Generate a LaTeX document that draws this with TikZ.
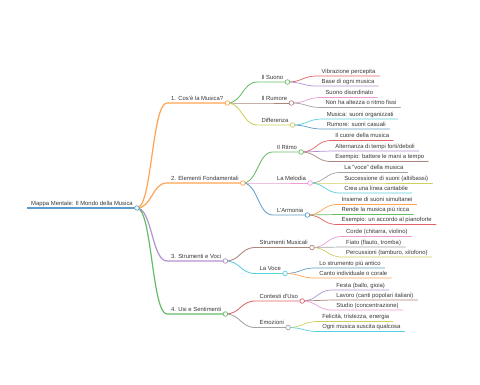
\documentclass[tikz,border=0pt]{standalone}
\usepackage{fontspec}
\setmainfont{Liberation Sans}
\usetikzlibrary{calc}

\definecolor{mmblue}{HTML}{1F77B4}
\definecolor{mmorange}{HTML}{FF7F0E}
\definecolor{mmgreen}{HTML}{2CA02C}
\definecolor{mmred}{HTML}{D62728}
\definecolor{mmpurple}{HTML}{9467BD}
\definecolor{mmbrown}{HTML}{8C564B}
\definecolor{mmpink}{HTML}{E377C2}
\definecolor{mmgrey}{HTML}{7F7F7F}
\definecolor{mmolive}{HTML}{BCBD22}
\definecolor{mmcyan}{HTML}{17BECF}

\tikzset{
    mmtopic/.style={font=\fontsize{5.9pt}{7pt}\selectfont, text=black!78, inner xsep=4pt, inner ysep=0pt, text height=4.4pt, text depth=2.4pt},
    mmdot/.style={circle, fill=white, line width=0.7pt, minimum size=4.6pt, inner sep=0pt},
}

% child topic: name, parent, colour, y of its line, line width, text
\newcommand{\mmkid}[6]{%
    \node[mmtopic, anchor=south west] (#1) at ($(#2.south east |- 0,#4)+(30,0)$) {#6};
    \path (#2.south east) -- coordinate[pos=0.5] (#1-mid) (#1.south west);
    \draw[#3!72, line width=#5, line cap=round] (#2.south east) .. controls (#1-mid |- #2.south east) and (#1-mid |- #1.south west) .. (#1.south west) -- (#1.south east);
}

\begin{document}
\begin{tikzpicture}[x=1pt, y=-1pt]
    \useasboundingbox[fill=white] (0,0) rectangle (480,384);

    \node[mmtopic, anchor=south west] (root) at (27,208) {Mappa Mentale: Il Mondo della Musica};
    \draw[mmblue!72, line width=2pt] (root.south west) -- (root.south east);

    % 1
    \mmkid{cosa}{root}{mmorange}{103}{1.2pt}{1. Cos'è la Musica?}
    \mmkid{suono}{cosa}{mmgreen}{82}{0.85pt}{Il Suono}
    \mmkid{vibrazione}{suono}{mmred}{76}{0.7pt}{Vibrazione percepita}
    \mmkid{base}{suono}{mmpurple}{86}{0.7pt}{Base di ogni musica}
    \mmkid{rumore}{cosa}{mmbrown}{103}{0.85pt}{Il Rumore}
    \mmkid{disordinato}{rumore}{mmpink}{97.5}{0.7pt}{Suono disordinato}
    \mmkid{nonha}{rumore}{mmgrey}{107.5}{0.7pt}{Non ha altezza o ritmo fissi}
    \mmkid{differenza}{cosa}{mmolive}{125}{0.85pt}{Differenza}
    \mmkid{musorg}{differenza}{mmcyan}{119}{0.7pt}{Musica: suoni organizzati}
    \mmkid{rumcas}{differenza}{mmblue}{129}{0.7pt}{Rumore: suoni casuali}

    % 2
    \mmkid{elementi}{root}{mmorange}{183}{1.2pt}{2. Elementi Fondamentali}
    \mmkid{ritmo}{elementi}{mmgreen}{152}{0.85pt}{Il Ritmo}
    \mmkid{cuore}{ritmo}{mmred}{140.5}{0.7pt}{Il cuore della musica}
    \mmkid{alternanza}{ritmo}{mmpurple}{151}{0.7pt}{Alternanza di tempi forti/deboli}
    \mmkid{battere}{ritmo}{mmbrown}{161.5}{0.7pt}{Esempio: battere le mani a tempo}
    \mmkid{melodia}{elementi}{mmpink}{183}{0.85pt}{La Melodia}
    \mmkid{vocemus}{melodia}{mmgrey}{172.5}{0.7pt}{La "voce" della musica}
    \mmkid{successione}{melodia}{mmolive}{183}{0.7pt}{Successione di suoni (alti/bassi)}
    \mmkid{crea}{melodia}{mmcyan}{193}{0.7pt}{Crea una linea cantabile}
    \mmkid{armonia}{elementi}{mmblue}{215}{0.85pt}{L'Armonia}
    \mmkid{insieme}{armonia}{mmorange}{204.5}{0.7pt}{Insieme di suoni simultanei}
    \mmkid{rende}{armonia}{mmgreen}{214.5}{0.7pt}{Rende la musica più ricca}
    \mmkid{accordo}{armonia}{mmred}{224.5}{0.7pt}{Esempio: un accordo al pianoforte}

    % 3
    \mmkid{strumenti}{root}{mmpurple}{261}{1.2pt}{3. Strumenti e Voci}
    \mmkid{musicali}{strumenti}{mmbrown}{247.5}{0.85pt}{Strumenti Musicali}
    \mmkid{corde}{musicali}{mmpink}{236.5}{0.7pt}{Corde (chitarra, violino)}
    \mmkid{fiato}{musicali}{mmgrey}{247}{0.7pt}{Fiato (flauto, tromba)}
    \mmkid{percussioni}{musicali}{mmolive}{257}{0.7pt}{Percussioni (tamburo, xilofono)}
    \mmkid{voce}{strumenti}{mmcyan}{273.5}{0.85pt}{La Voce}
    \mmkid{antico}{voce}{mmblue}{268}{0.7pt}{Lo strumento più antico}
    \mmkid{canto}{voce}{mmorange}{278}{0.7pt}{Canto individuale o corale}

    % 4
    \mmkid{usi}{root}{mmgreen}{314}{1.2pt}{4. Usi e Sentimenti}
    \mmkid{contesti}{usi}{mmred}{301}{0.85pt}{Contesti d'Uso}
    \mmkid{festa}{contesti}{mmpurple}{290}{0.7pt}{Festa (ballo, gioia)}
    \mmkid{lavoro}{contesti}{mmbrown}{300}{0.7pt}{Lavoro (canti popolari italiani)}
    \mmkid{studio}{contesti}{mmpink}{310}{0.7pt}{Studio (concentrazione)}
    \mmkid{emozioni}{usi}{mmgrey}{327.5}{0.85pt}{Emozioni}
    \mmkid{felicita}{emozioni}{mmolive}{321.5}{0.7pt}{Felicità, tristezza, energia}
    \mmkid{ogni}{emozioni}{mmcyan}{331.5}{0.7pt}{Ogni musica suscita qualcosa}

    % dots on the topics that have children
    \foreach \n/\c in {root/mmblue, cosa/mmorange, suono/mmgreen, rumore/mmbrown, differenza/mmolive,
        elementi/mmorange, ritmo/mmgreen, melodia/mmpink, armonia/mmblue,
        strumenti/mmpurple, musicali/mmbrown, voce/mmcyan,
        usi/mmgreen, contesti/mmred, emozioni/mmgrey}
        \node[mmdot, draw=\c!72] at (\n.south east) {};
\end{tikzpicture}
\end{document}
